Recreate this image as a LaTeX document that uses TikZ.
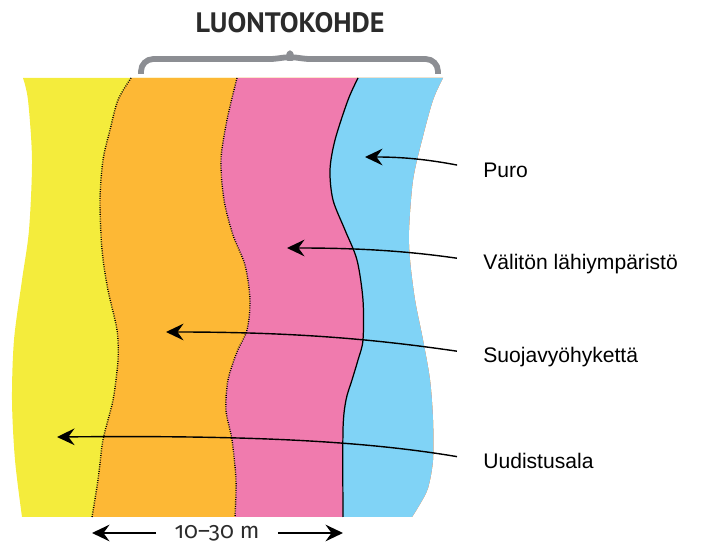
\documentclass[tikz,border=0pt]{standalone}
\usepackage{fontspec}
\setmainfont{Liberation Sans}
\newfontfamily\titlefont{PT Sans}
\newfontfamily\dimfont{Fira Sans}[Numbers=OldStyle]
\usetikzlibrary{arrows.meta}

\definecolor{ylw}{HTML}{F4EC3C}
\definecolor{orng}{HTML}{FDB835}
\definecolor{pnk}{HTML}{F07BAE}
\definecolor{blu}{HTML}{80D3F6}
\definecolor{bracegray}{HTML}{8C8E93}
\definecolor{ink}{HTML}{2B2B2B}

\begin{document}
\begin{tikzpicture}[x=0.02cm, y=-0.02cm,
  lab/.style={anchor=west, inner sep=0pt, text height=8.6pt, text depth=0pt, font=\fontsize{12}{14}\selectfont},
  pointer/.style={line width=0.8pt, shorten <=15pt, -{Stealth[length=10pt, width=9.5pt, inset=3.5pt]}},
  dimline/.style={line width=0.8pt, shorten <=7pt, -{Stealth[length=10pt, width=9.5pt, inset=3.5pt]}},
  dotline/.style={line width=0.8pt, dash pattern=on 0.5pt off 0.8pt}]
\useasboundingbox (0,0) rectangle (701,547);
\begin{scope}
\clip plot[smooth] coordinates {(443,78) (433,100) (422,140) (413,180) (409,230) (410,260) (415,300) (423,340) (430,380) (433,420) (433,460) (428,488) (420,504) (412,517)} -- (0,517) -- (0,78) -- cycle;
\fill[ylw] plot[smooth] coordinates {(23,78) (28,100) (32,160) (29,230) (22,280) (14,340) (12,400) (15,460) (22,517)} -- (701,517) -- (701,78) -- cycle;
\fill[orng] plot[smooth] coordinates {(131,78) (118,100) (110,130) (103,160) (100,200) (102,250) (108,290) (117,330) (118,360) (113,400) (103,440) (98,480) (92,517)} -- (701,517) -- (701,78) -- cycle;
\fill[pnk] plot[smooth] coordinates {(237,78) (227,120) (221,160) (224,200) (233,235) (245,265) (250,300) (247,330) (237,352) (228,380) (226,410) (232,440) (236,480) (235,517)} -- (701,517) -- (701,78) -- cycle;
\fill[blu] plot[smooth] coordinates {(358,78) (348,100) (335,140) (330,170) (333,200) (345,230) (357,260) (363,300) (363,340) (358,360) (352,380) (346,400) (343,430) (343,517)} -- (701,517) -- (701,78) -- cycle;
\end{scope}
\draw[dotline] plot[smooth] coordinates {(131,78) (118,100) (110,130) (103,160) (100,200) (102,250) (108,290) (117,330) (118,360) (113,400) (103,440) (98,480) (92,517)};
\draw[dotline] plot[smooth] coordinates {(237,78) (227,120) (221,160) (224,200) (233,235) (245,265) (250,300) (247,330) (237,352) (228,380) (226,410) (232,440) (236,480) (235,517)};
\draw[line width=0.7pt] plot[smooth] coordinates {(358,78) (348,100) (335,140) (330,170) (333,200) (345,230) (357,260) (363,300) (363,340) (358,360) (352,380) (346,400) (343,430) (343,517)};
\draw[bracegray, line width=3.3pt, line join=round, rounded corners=7pt] (141,74) -- (141,59) -- (258,59) .. controls (278,59) and (289,56) .. (290,46) .. controls (291,56) and (302,59) .. (322,59) -- (438,59) -- (438,74);
\node[font=\titlefont\bfseries\fontsize{16}{18}\selectfont, text=ink] (title) at (290,23) {LUONTOKOHDE};
\node[lab] (puro) at (483,170) {Puro};
\node[lab] (valiton) at (483,262) {Välitön lähiympäristö};
\node[lab] (suoja) at (483,355) {Suojavyöhykettä};
\node[lab] (uudis) at (483,461) {Uudistusala};
\coordinate (puroTip) at (365,157);
\coordinate (valitonTip) at (287,248);
\coordinate (suojaTip) at (166,332);
\coordinate (uudisTip) at (57,437);
\draw[pointer] (puro.west) .. controls (420,158) and (395,157) .. (puroTip);
\draw[pointer] (valiton.west) .. controls (400,250) and (350,248) .. (valitonTip);
\draw[pointer] (suoja.west) .. controls (380,340) and (300,332) .. (suojaTip);
\draw[pointer] (uudis.west) .. controls (370,442) and (260,435) .. (uudisTip);
\node[font=\dimfont\fontsize{13}{15}\selectfont, text=ink] (dim) at (217,533) {10–30 m};
\coordinate (dimL) at (92,533);
\coordinate (dimR) at (343,533);
\draw[dimline] (dim.west) -- (dimL);
\draw[dimline] (dim.east) -- (dimR);
\end{tikzpicture}
\end{document}
